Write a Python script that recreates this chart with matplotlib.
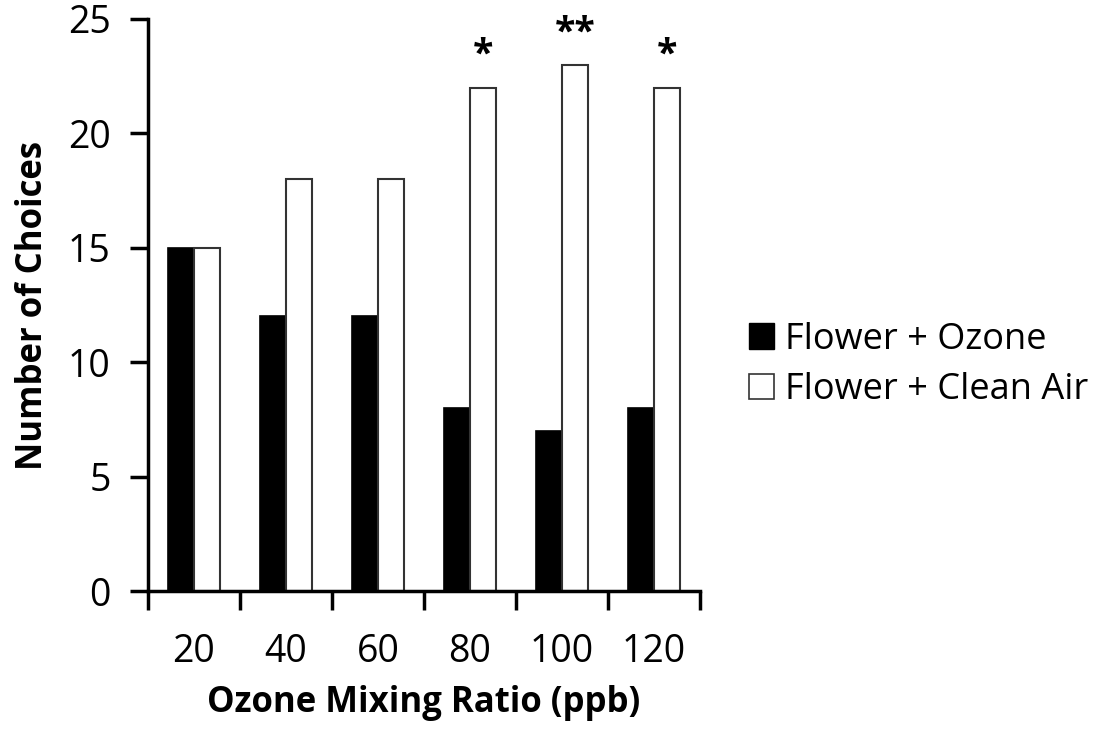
import matplotlib
matplotlib.use("Agg")
import matplotlib.pyplot as plt
import numpy as np
from matplotlib.patches import Patch

categories = ["20", "40", "60", "80", "100", "120"]
ozone = [15, 12, 12, 8, 7, 8]
clean = [15, 18, 18, 22, 23, 22]
signif = ["", "", "", "*", "**", "*"]

plt.rcParams['font.family'] = ['Open Sans', 'DejaVu Sans']

fig = plt.figure(figsize=(11.17, 7.31), dpi=100)
ax = fig.add_axes([148/1117, 1-591/731, (700-148)/1117, (591-19)/731])

x = np.arange(len(categories))
w = 0.285
ax.bar(x - w/2, ozone, w, color='black', edgecolor='black', linewidth=1.2, label='Flower + Ozone')
ax.bar(x + w/2, clean, w, color='white', edgecolor='#333333', linewidth=1.5, label='Flower + Clean Air')

for xi, c, s in zip(x, clean, signif):
    if s:
        ax.text(xi + w/2, c + 0.55, s, ha='center', va='bottom', fontsize=27, fontweight='bold')

ax.set_xlim(-0.5, len(categories) - 0.5)
ax.set_ylim(0, 25)
ax.set_yticks([0, 5, 10, 15, 20, 25])
ax.set_xticks(np.arange(-0.5, len(categories), 1.0))
ax.set_xticklabels([])
ax.set_xticks(x, minor=True)
ax.set_xticklabels(categories, minor=True)
ax.tick_params(axis='x', which='major', direction='out', length=14, width=2.5)
ax.tick_params(axis='x', which='minor', length=0, pad=30, labelsize=27)
ax.tick_params(axis='y', direction='out', length=13, width=2.5, labelsize=27, pad=14)

for s in ['top', 'right']:
    ax.spines[s].set_visible(False)
for s in ['left', 'bottom']:
    ax.spines[s].set_linewidth(2.5)

ax.set_ylabel('Number of Choices', fontsize=25, fontweight='bold', labelpad=12)
ax.set_xlabel('Ozone Mixing Ratio (ppb)', fontsize=25, fontweight='bold', labelpad=10)

handles = [Patch(facecolor='black', edgecolor='black', label='Flower + Ozone'),
           Patch(facecolor='white', edgecolor='#333333', linewidth=1.2, label='Flower + Clean Air')]
fig.legend(handles=handles, loc='center left', bbox_to_anchor=(716/1117, 1-365/731),
           frameon=False, fontsize=26, handlelength=0.7, handleheight=0.7, handletextpad=0.3,
           labelspacing=0.4)

fig.savefig('out.png', dpi=100)
